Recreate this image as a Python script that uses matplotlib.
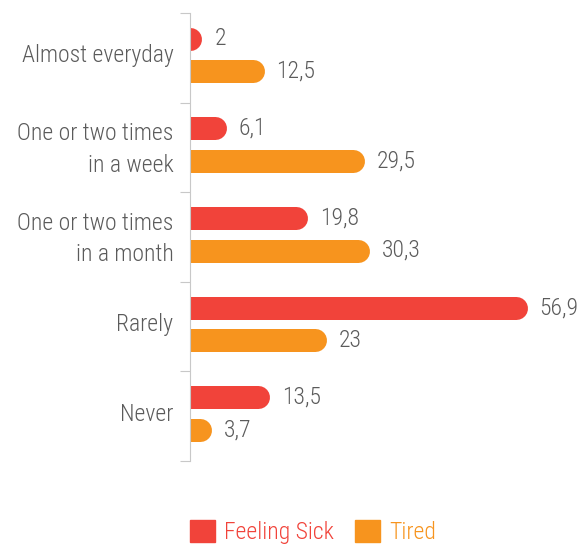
#Feeling sick / tired frequency

import matplotlib
matplotlib.use('Agg')
import matplotlib.pyplot as plt
from matplotlib import font_manager
from matplotlib.patches import Patch

categories = ['Almost everyday', 'One or two times\nin a week', 'One or two times\nin a month',
              'Rarely', 'Never']
sick = [2, 6.1, 19.8, 56.9, 13.5]
tired = [12.5, 29.5, 30.3, 23, 3.7]
series = ['Feeling Sick', 'Tired']

red = '#f1433a'
orange = '#f7941e'
grey = '#5b5b5b'

# pick a narrow font if one is around
names = set(f.name for f in font_manager.fontManager.ttflist)
font = 'DejaVu Sans'
for cand in ['Liberation Sans Narrow', 'Roboto Condensed', 'Open Sans Condensed', 'Noto Sans Condensed']:
    if cand in names:
        font = cand
        break
plt.rcParams['font.family'] = font
plt.rcParams['font.weight'] = 'light'
fs = 17

fig = plt.figure(figsize=(5.81, 5.46), dpi=100)
ax = fig.add_axes([190 / 581, 1 - 461 / 546, 1 - 190 / 581, (461 - 13) / 546])
xmax = 66
ax.set_xlim(0, xmax)
ax.set_ylim(len(categories), 0)

# bar thickness and cap radius
bar_px = 23
r = (bar_px / 2) / (ax.bbox.width / xmax)
lw = bar_px * 72 / fig.dpi

offsets = [(-0.212, sick, red), (0.151, tired, orange)]
for off, vals, col in offsets:
    for i, v in enumerate(vals):
        y = i + 0.5 + off
        # left cap falls outside the axes and gets clipped
        ax.plot([-3, v - r], [y, y], color=col, lw=lw, solid_capstyle='round')
        ax.text(v + 2.1, y, f'{v:g}'.replace('.', ','), va='center', ha='left',
                fontsize=fs, color=grey)

# axis styling
for s in ['top', 'right', 'bottom']:
    ax.spines[s].set_visible(False)
ax.spines['left'].set_color('#c8c8c8')
ax.set_xticks([])
ax.set_yticks(range(len(categories) + 1))
ax.set_yticklabels([])
ax.tick_params(axis='y', which='major', length=7, color='#c8c8c8')
ax.set_yticks([i + 0.45 for i in range(len(categories))], minor=True)
ax.set_yticklabels(categories, minor=True, fontsize=fs, color=grey, linespacing=1.45)
ax.tick_params(axis='y', which='minor', length=0, pad=12)

handles = [Patch(color=red), Patch(color=orange)]
fig.legend(handles, series, loc='lower left', bbox_to_anchor=(190 / 581, 0.004),
           frameon=False, ncol=2, fontsize=fs, handlelength=1.05, handleheight=1.05,
           handletextpad=0.4, columnspacing=0.9, borderpad=0, borderaxespad=0,
           labelcolor=[red, orange])

fig.savefig('out.png', dpi=100)
